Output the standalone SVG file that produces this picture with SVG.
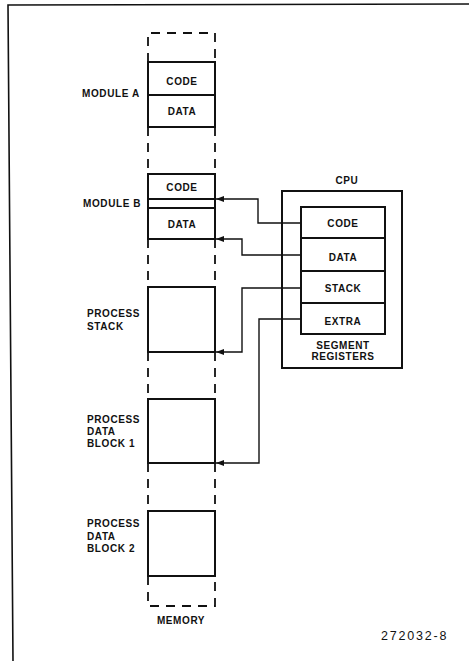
<svg xmlns="http://www.w3.org/2000/svg" width="469" height="661" viewBox="0 0 469 661">
<style>
.bx{fill:#fff;stroke:#111;stroke-width:2}
.ds{fill:none;stroke:#111;stroke-width:1.8;stroke-dasharray:9 7}
.cn{fill:none;stroke:#111;stroke-width:1.4}
.t{font-family:"Liberation Sans",Arial,Helvetica,sans-serif;font-weight:700;font-size:10px;letter-spacing:0.6px;fill:#111}
.c{text-anchor:middle}
.n{font-family:"Liberation Sans",Arial,Helvetica,sans-serif;font-size:12.5px;letter-spacing:1.8px;fill:#111}
</style>
<defs>
<marker id="ah" viewBox="0 0 8 6" refX="8" refY="3" markerWidth="8" markerHeight="6" markerUnits="userSpaceOnUse" orient="auto">
<path d="M0,0 L8,3 L0,6 Z" fill="#111"/>
</marker>
</defs>
<rect width="469" height="661" fill="#fff"/>
<path d="M469,4 L8,5 L13,661" fill="none" stroke="#111" stroke-width="1.6"/>

<g id="memory">
<path class="ds" d="M148,62 V33 H215 V62"/>
<path class="ds" d="M148,127 V174 M215,127 V174"/>
<path class="ds" d="M148,239 V287 M215,239 V287"/>
<path class="ds" d="M148,352 V399 M215,352 V399"/>
<path class="ds" d="M148,463 V511 M215,463 V511"/>
<path class="ds" d="M148,576 V606 H215 V576"/>
<text class="t c" x="181" y="623.5">MEMORY</text>
</g>

<g id="module-a">
<rect class="bx" x="148" y="62" width="67" height="33"/>
<rect class="bx" x="148" y="95" width="67" height="32"/>
<text class="t c" x="182" y="84.5">CODE</text>
<text class="t c" x="182" y="115">DATA</text>
<text class="t" x="82" y="96.5">MODULE A</text>
</g>

<g id="module-b">
<rect class="bx" x="148" y="174" width="67" height="25"/>
<rect class="bx" x="148" y="199" width="67" height="9"/>
<rect class="bx" x="148" y="208" width="67" height="31"/>
<text class="t c" x="182" y="190.5">CODE</text>
<text class="t c" x="182" y="227.5">DATA</text>
<text class="t" x="83" y="206.5">MODULE B</text>
</g>

<g id="process-stack">
<rect class="bx" x="148" y="287" width="67" height="65"/>
<text class="t" x="87" y="316.5">PROCESS</text>
<text class="t" x="87" y="329.5">STACK</text>
</g>

<g id="process-data-block-1">
<rect class="bx" x="148" y="399" width="67" height="64"/>
<text class="t" x="87" y="422.5">PROCESS</text>
<text class="t" x="87" y="435">DATA</text>
<text class="t" x="87" y="447">BLOCK 1</text>
</g>

<g id="process-data-block-2">
<rect class="bx" x="148" y="511" width="67" height="65"/>
<text class="t" x="87" y="526.5">PROCESS</text>
<text class="t" x="87" y="539.5">DATA</text>
<text class="t" x="87" y="551.5">BLOCK 2</text>
</g>

<g id="cpu">
<rect class="bx" x="282" y="191" width="120" height="177"/>
<text class="t c" x="347" y="184">CPU</text>
<text class="t c" x="343" y="349">SEGMENT</text>
<text class="t c" x="343" y="360">REGISTERS</text>
</g>

<g id="registers">
<rect class="bx" x="301" y="207" width="84" height="31"/>
<rect class="bx" x="301" y="238" width="84" height="33"/>
<rect class="bx" x="301" y="271" width="84" height="32"/>
<rect class="bx" x="301" y="303" width="84" height="31"/>
<text class="t c" x="343" y="226.5">CODE</text>
<text class="t c" x="343" y="260.5">DATA</text>
<text class="t c" x="343" y="291.5">STACK</text>
<text class="t c" x="343" y="324.5">EXTRA</text>
</g>

<g id="connectors">
<path class="cn" d="M301,223 H258 V199 H216" marker-end="url(#ah)"/>
<path class="cn" d="M301,255 H242 V239 H216" marker-end="url(#ah)"/>
<path class="cn" d="M301,288 H242 V352 H216" marker-end="url(#ah)"/>
<path class="cn" d="M301,319 H259 V463 H216" marker-end="url(#ah)"/>
</g>

<text class="n" x="381" y="639.5">272032-8</text>
</svg>
